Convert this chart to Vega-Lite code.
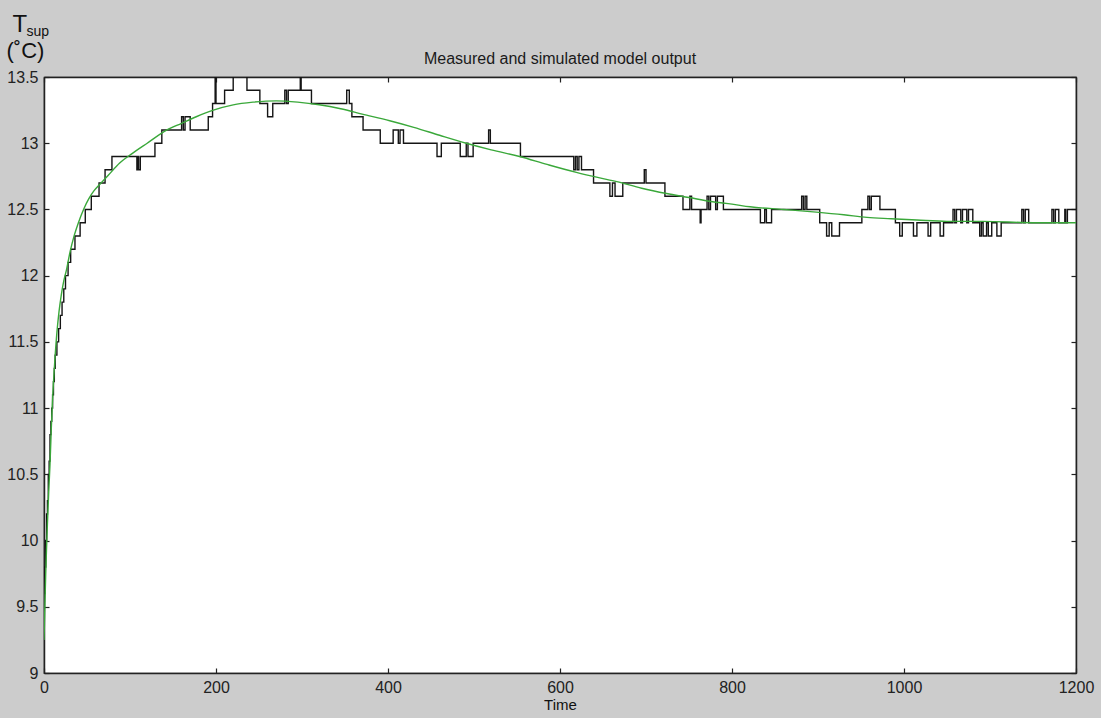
{
  "$schema": "https://vega.github.io/schema/vega-lite/v6.json",
  "width": 1032,
  "height": 596,
  "autosize": {"type": "none"},
  "padding": {"left": 44, "top": 77, "right": 25, "bottom": 45},
  "background": "#cccccc",
  "title": {"text": "Measured and simulated model output", "fontSize": 16, "fontWeight": "normal", "font": "Liberation Sans", "color": "#1a1a1a", "offset": 9, "dy": 64},
  "config": {
    "font": "Liberation Sans",
    "view": {"fill": "white", "stroke": "#222222", "strokeWidth": 1.2},
    "axis": {"grid": false, "domainColor": "#222222", "domainWidth": 1.5, "tickColor": "#222222", "tickWidth": 1.2, "labelFont": "Liberation Sans", "labelFontSize": 16, "labelColor": "#222222", "titleFont": "Liberation Sans", "titleColor": "#111111", "titleFontWeight": "normal", "labelFlush": false, "labelOverlap": false}
  },
  "resolve": {"axis": {"x": "independent", "y": "independent"}},
  "layer": [
    {
      "data": {"values": [
        {"t":0,"v":9.6},{"t":1,"v":9.8},{"t":2,"v":10.0},{"t":3,"v":10.2},{"t":4,"v":10.3},{"t":5,"v":10.5},{"t":6,"v":10.6},{"t":7,"v":10.8},{"t":8,"v":10.9},{"t":9,"v":11.0},{"t":10,"v":11.1},{"t":11,"v":11.2},{"t":12,"v":11.3},{"t":13,"v":11.4},{"t":15,"v":11.5},{"t":17,"v":11.6},{"t":19,"v":11.7},{"t":21,"v":11.8},{"t":23,"v":11.9},{"t":25,"v":12.0},{"t":28,"v":12.1},{"t":31,"v":12.2},{"t":36,"v":12.3},{"t":42,"v":12.4},{"t":48,"v":12.5},{"t":55,"v":12.6},{"t":64,"v":12.7},{"t":71,"v":12.8},{"t":79,"v":12.9},{"t":108,"v":12.8},{"t":109,"v":12.9},{"t":110,"v":12.8},{"t":112,"v":12.9},{"t":129,"v":13.0},{"t":137,"v":13.1},{"t":160,"v":13.2},{"t":162,"v":13.1},{"t":164,"v":13.2},{"t":170,"v":13.1},{"t":191,"v":13.2},{"t":196,"v":13.3},{"t":199,"v":13.6},{"t":200,"v":13.3},{"t":210,"v":13.4},{"t":220,"v":13.6},{"t":236,"v":13.4},{"t":251,"v":13.3},{"t":260,"v":13.2},{"t":266,"v":13.3},{"t":280,"v":13.4},{"t":282,"v":13.3},{"t":284,"v":13.4},{"t":298,"v":13.6},{"t":299,"v":13.4},{"t":311,"v":13.3},{"t":352,"v":13.4},{"t":355,"v":13.3},{"t":358,"v":13.2},{"t":371,"v":13.1},{"t":391,"v":13.0},{"t":406,"v":13.1},{"t":412,"v":13.0},{"t":414,"v":13.1},{"t":418,"v":13.0},{"t":457,"v":12.9},{"t":462,"v":13.0},{"t":484,"v":12.9},{"t":491,"v":13.0},{"t":493,"v":12.9},{"t":499,"v":13.0},{"t":517,"v":13.1},{"t":519,"v":13.0},{"t":554,"v":12.9},{"t":616,"v":12.8},{"t":618,"v":12.9},{"t":620,"v":12.8},{"t":622,"v":12.9},{"t":625,"v":12.8},{"t":639,"v":12.7},{"t":658,"v":12.6},{"t":661,"v":12.7},{"t":664,"v":12.6},{"t":673,"v":12.7},{"t":698,"v":12.8},{"t":700,"v":12.7},{"t":722,"v":12.6},{"t":743,"v":12.5},{"t":751,"v":12.6},{"t":753,"v":12.5},{"t":763,"v":12.4},{"t":764,"v":12.5},{"t":771,"v":12.6},{"t":773,"v":12.5},{"t":775,"v":12.6},{"t":781,"v":12.5},{"t":783,"v":12.6},{"t":790,"v":12.5},{"t":833,"v":12.4},{"t":838,"v":12.5},{"t":840,"v":12.4},{"t":846,"v":12.5},{"t":881,"v":12.6},{"t":883,"v":12.5},{"t":885,"v":12.6},{"t":887,"v":12.5},{"t":902,"v":12.4},{"t":910,"v":12.3},{"t":913,"v":12.4},{"t":916,"v":12.3},{"t":925,"v":12.4},{"t":951,"v":12.5},{"t":958,"v":12.6},{"t":960,"v":12.5},{"t":962,"v":12.6},{"t":972,"v":12.5},{"t":990,"v":12.4},{"t":995,"v":12.3},{"t":998,"v":12.4},{"t":1011,"v":12.3},{"t":1015,"v":12.4},{"t":1028,"v":12.3},{"t":1031,"v":12.4},{"t":1042,"v":12.3},{"t":1046,"v":12.4},{"t":1057,"v":12.5},{"t":1059,"v":12.4},{"t":1061,"v":12.5},{"t":1066,"v":12.4},{"t":1068,"v":12.5},{"t":1073,"v":12.4},{"t":1075,"v":12.5},{"t":1080,"v":12.4},{"t":1088,"v":12.3},{"t":1090,"v":12.4},{"t":1092,"v":12.3},{"t":1096,"v":12.4},{"t":1098,"v":12.3},{"t":1102,"v":12.4},{"t":1108,"v":12.3},{"t":1113,"v":12.4},{"t":1137,"v":12.5},{"t":1139,"v":12.4},{"t":1141,"v":12.5},{"t":1145,"v":12.4},{"t":1172,"v":12.5},{"t":1174,"v":12.4},{"t":1176,"v":12.5},{"t":1180,"v":12.4},{"t":1187,"v":12.5},{"t":1188,"v":12.4},{"t":1190,"v":12.5},{"t":1200,"v":12.5}
      ]},
      "mark": {"type": "line", "interpolate": "step-after", "color": "#151515", "strokeWidth": 1.4, "clip": true},
      "encoding": {
        "x": {"field": "t", "type": "quantitative", "scale": {"domain": [0, 1200], "nice": false, "zero": false},
          "axis": {"orient": "bottom", "values": [0,200,400,600,800,1000,1200], "format": "d", "tickSize": -5, "labelPadding": 11, "title": "Time", "titleFontSize": 15, "titlePadding": 2}},
        "y": {"field": "v", "type": "quantitative", "scale": {"domain": [9, 13.5], "nice": false, "zero": false},
          "axis": {"orient": "left", "values": [9,9.5,10,10.5,11,11.5,12,12.5,13,13.5], "format": "~g", "tickSize": -5, "labelPadding": 11, "title": "(˚C)", "titleAngle": 0, "titleX": -38, "titleY": -20, "titleAlign": "left", "titleBaseline": "alphabetic", "titleFontSize": 22}}
      }
    },
    {
      "data": {"values": [
        {"t":0,"v":9.25},{"t":1,"v":9.5},{"t":2,"v":9.75},{"t":3,"v":9.95},{"t":4,"v":10.13},{"t":5.5,"v":10.37},{"t":7,"v":10.58},{"t":8.5,"v":10.85},{"t":10,"v":11.07},{"t":12.5,"v":11.35},{"t":15,"v":11.57},{"t":17.5,"v":11.73},{"t":20,"v":11.85},{"t":23,"v":11.96},{"t":26,"v":12.04},{"t":30,"v":12.17},{"t":35,"v":12.3},{"t":40,"v":12.4},{"t":46,"v":12.5},{"t":52,"v":12.58},{"t":58,"v":12.64},{"t":65,"v":12.69},{"t":75,"v":12.76},{"t":88,"v":12.85},{"t":102,"v":12.92},{"t":120,"v":13.0},{"t":143,"v":13.1},{"t":160,"v":13.15},{"t":177,"v":13.2},{"t":197,"v":13.25},{"t":220,"v":13.29},{"t":243,"v":13.31},{"t":270,"v":13.32},{"t":295,"v":13.31},{"t":320,"v":13.29},{"t":345,"v":13.26},{"t":370,"v":13.22},{"t":402,"v":13.17},{"t":430,"v":13.12},{"t":460,"v":13.06},{"t":491,"v":13.0},{"t":520,"v":12.95},{"t":553,"v":12.9},{"t":585,"v":12.84},{"t":619,"v":12.78},{"t":645,"v":12.74},{"t":666,"v":12.71},{"t":695,"v":12.66},{"t":724,"v":12.62},{"t":750,"v":12.59},{"t":775,"v":12.56},{"t":800,"v":12.54},{"t":821,"v":12.52},{"t":860,"v":12.5},{"t":898,"v":12.48},{"t":930,"v":12.46},{"t":957,"v":12.44},{"t":985,"v":12.43},{"t":1015,"v":12.42},{"t":1050,"v":12.41},{"t":1092,"v":12.41},{"t":1150,"v":12.4},{"t":1200,"v":12.4}
      ]},
      "mark": {"type": "line", "interpolate": "monotone", "color": "#3aa83a", "strokeWidth": 1.4, "clip": true},
      "encoding": {
        "x": {"field": "t", "type": "quantitative",
          "axis": {"orient": "top", "values": [0,200,400,600,800,1000,1200], "labels": false, "tickSize": -5, "title": "T", "titleX": -32, "titleY": -46, "titleAlign": "left", "titleBaseline": "alphabetic", "titleFontSize": 24}},
        "y": {"field": "v", "type": "quantitative",
          "axis": {"orient": "right", "values": [9,9.5,10,10.5,11,11.5,12,12.5,13,13.5], "labels": false, "tickSize": -5, "title": "sup", "titleAngle": 0, "titleX": -1050, "titleY": -42, "titleAlign": "left", "titleBaseline": "alphabetic", "titleFontSize": 14}}
      }
    }
  ]
}
